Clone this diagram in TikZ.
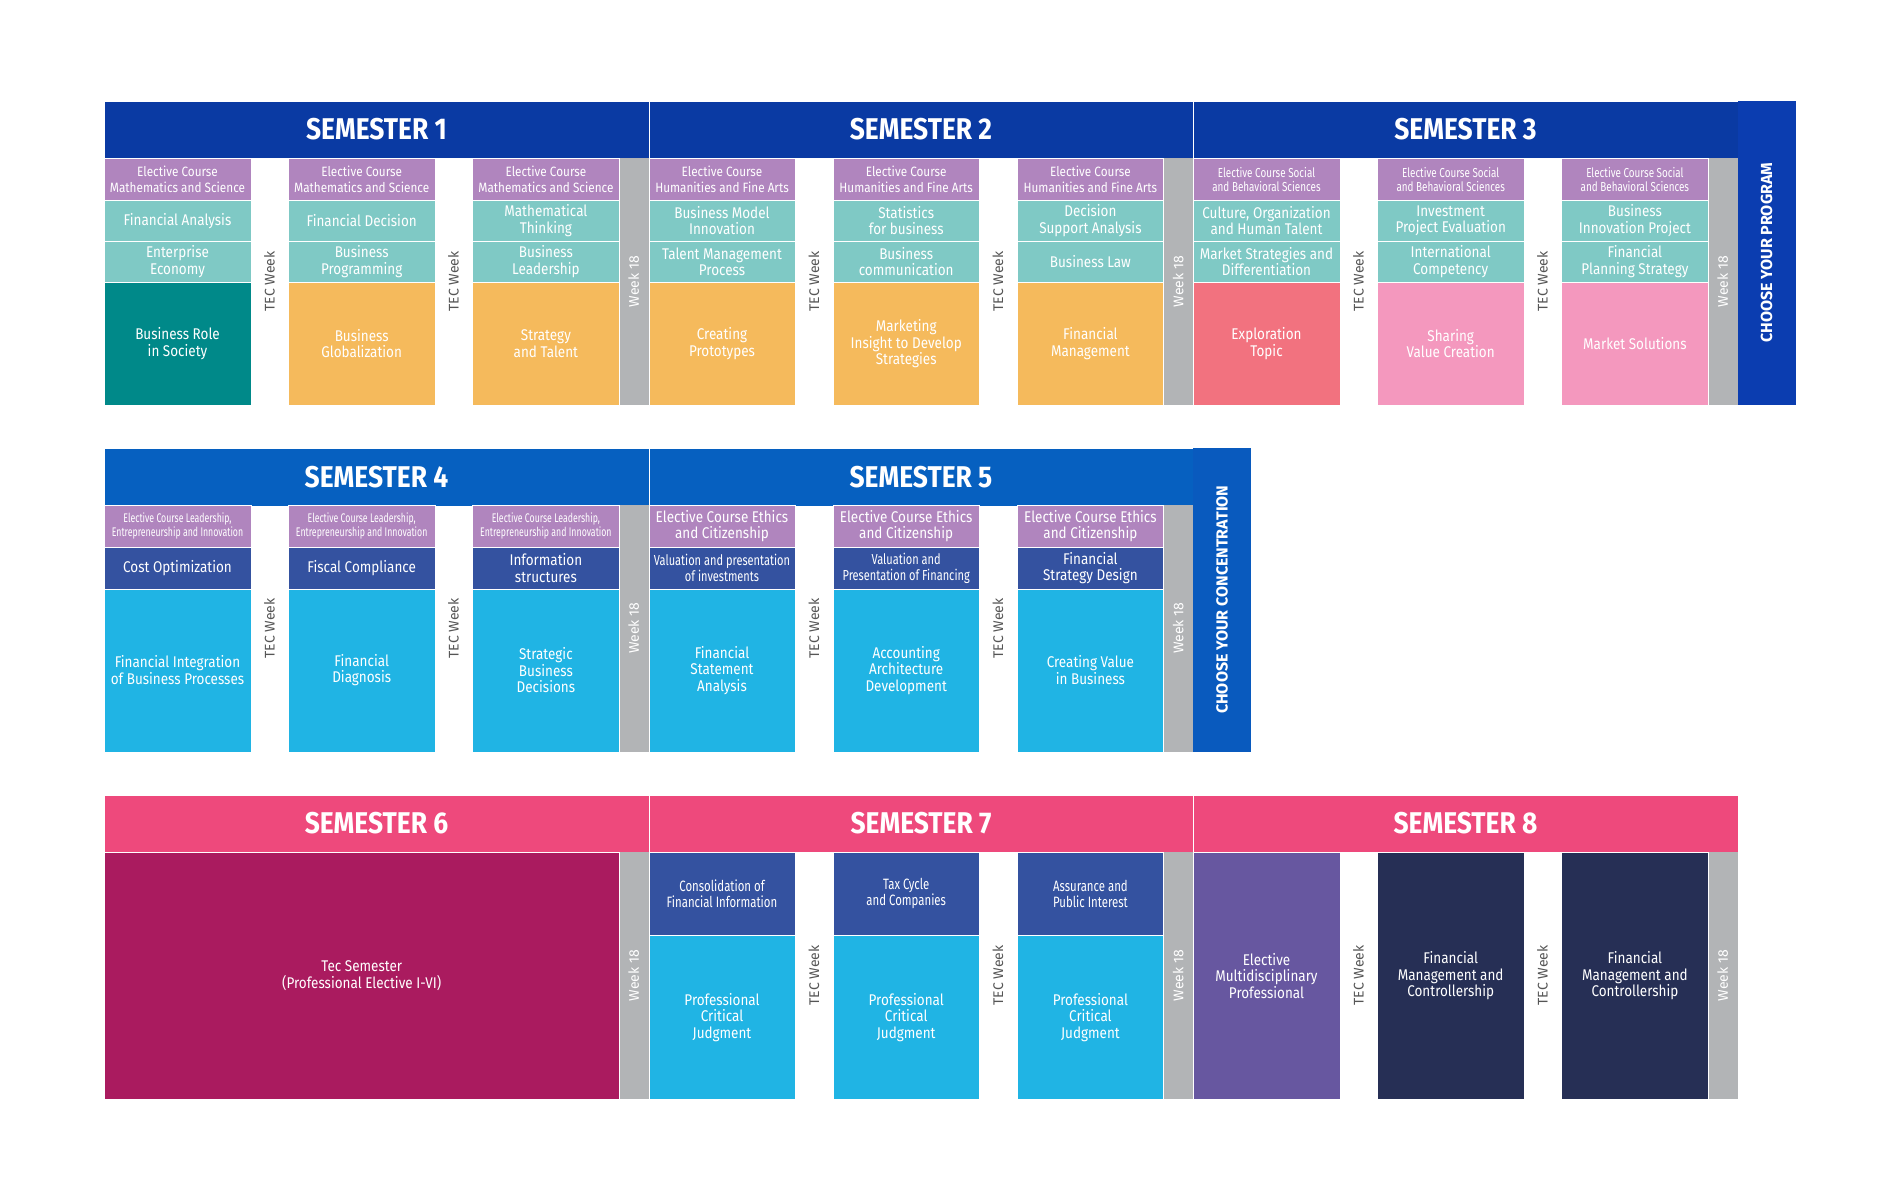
\documentclass[tikz,border=0pt]{standalone}
\usepackage{fontspec}
\setmainfont{Fira Sans}[FakeStretch=0.87]
\newfontfamily\headfont{Fira Sans}[FakeStretch=0.88]
\newfontfamily\tightfont{Fira Sans}[FakeStretch=0.76]
\newfontfamily\tighterfont{Fira Sans}[FakeStretch=0.7]
\newfontfamily\widefont{Fira Sans}
\usetikzlibrary{positioning}

\definecolor{semA}{RGB}{10,58,163}
\definecolor{progA}{RGB}{11,61,176}
\definecolor{semB}{RGB}{6,96,192}
\definecolor{concB}{RGB}{9,90,190}
\definecolor{semC}{RGB}{238,73,124}
\definecolor{elec}{RGB}{176,133,190}
\definecolor{tealL}{RGB}{127,201,197}
\definecolor{tealD}{RGB}{0,137,137}
\definecolor{orng}{RGB}{245,186,92}
\definecolor{coral}{RGB}{242,114,127}
\definecolor{pinkL}{RGB}{244,152,190}
\definecolor{blueD}{RGB}{52,82,160}
\definecolor{cyanL}{RGB}{32,180,228}
\definecolor{weekgray}{RGB}{178,180,182}
\definecolor{magD}{RGB}{170,27,95}
\definecolor{vio}{RGB}{103,87,160}
\definecolor{navyD}{RGB}{38,47,85}
\definecolor{tecgray}{RGB}{85,85,85}

\begin{document}
\begin{tikzpicture}[
  x=1pt, y=-1pt,
  font=\fontsize{15.5}{16.5}\selectfont,
  cell/.style={anchor=north west, draw=white, line width=0.5pt, text=white, align=center, inner sep=0pt, minimum width=146.5pt},
  semhead/.style={anchor=north west, draw=white, line width=0.5pt, text=white, minimum width=544.5pt, minimum height=57.5pt, font=\headfont\bfseries\fontsize{30}{32}\selectfont},
  weekbar/.style={rotate=90, fill=weekgray, text=white, minimum width=247pt, minimum height=29.6pt, inner sep=0pt, font=\widefont\fontsize{14}{16}\selectfont},
  tec/.style={rotate=90, text=tecgray, inner sep=0pt, font=\widefont\fontsize{14}{16}\selectfont},
  choose/.style={rotate=90, text=white, minimum height=58pt, inner sep=0pt, font=\widefont\bfseries\fontsize{16}{18}\selectfont},
  elecA/.style={cell, fill=elec, minimum height=42pt, font=\fontsize{13.5}{15.5}\selectfont},
  elecB/.style={cell, fill=elec, minimum height=42pt, font=\tightfont\fontsize{13}{14}\selectfont},
  elecC/.style={cell, fill=elec, minimum height=42pt, font=\tighterfont\fontsize{12.5}{14}\selectfont},
  rowA/.style={cell, fill=tealL, minimum height=41pt},
  bigA/.style={cell, minimum height=123pt},
  darkB/.style={cell, fill=blueD, minimum height=41.5pt},
  bigB/.style={cell, fill=cyanL, minimum height=163pt},
  darkC/.style={cell, fill=blueD, minimum height=83pt, font=\tightfont\fontsize{15}{16}\selectfont},
  bigC/.style={cell, fill=cyanL, minimum height=164pt},
  fullC/.style={cell, minimum height=247pt}
]
  \fill[white] (0,0) rectangle (1900,1200);
  \useasboundingbox (0,0) rectangle (1900,1200);

  % semester headers
  \foreach \X [count=\s] in {104,648.5,1193}
    \node[semhead, fill=semA] (sem\s) at (\X,100.5) {SEMESTER \s};
  \foreach \X/\s in {104/4,648.5/5}
    \node[semhead, fill=semB] (sem\s) at (\X,448) {SEMESTER \s};
  \foreach \X/\s in {104/6,648.5/7,1193/8}
    \node[semhead, fill=semC] (sem\s) at (\X,794.5) {SEMESTER \s};

  % side bars
  \node[choose, fill=progA, minimum width=304.5pt] (prog) at (1766.5,252.75) {CHOOSE YOUR PROGRAM};
  \node[choose, fill=concB, minimum width=303.5pt] (conc) at (1222,599.75) {CHOOSE YOUR CONCENTRATION};

  % week 18 and tec week
  \foreach \X/\Y/\n in {104/281.5/1,648.5/281.5/2,1193/281.5/3,104/628.25/4,648.5/628.25/5,104/975.5/6,648.5/975.5/7,1193/975.5/8}
    \node[weekbar] (wk\n) at ({\X+529.7},\Y) {Week 18};
  \foreach \X/\Y/\n in {104/281.5/1,648.5/281.5/2,1193/281.5/3,104/628.25/4,648.5/628.25/5,648.5/975.5/7,1193/975.5/8}
    \foreach \j in {0,1}
      \node[tec] (tec\n\j) at ({\X+165.35+\j*184.2},\Y) {TEC Week};

  % elective rows
  \foreach \i in {0,1,2} {
    \node[elecA] (el1\i) at ({104+\i*184.2},158) {Elective Course\\Mathematics and Science};
    \node[elecA] (el2\i) at ({648.5+\i*184.2},158) {Elective Course\\Humanities and Fine Arts};
    \node[elecB] (el3\i) at ({1193+\i*184.2},158) {Elective Course Social\\and Behavioral Sciences};
    \node[elecC] (el4\i) at ({104+\i*184.2},505) {Elective Course Leadership,\\Entrepreneurship and Innovation};
    \node[elecA, font=\fontsize{15.5}{16.5}\selectfont] (el5\i) at ({648.5+\i*184.2},505) {Elective Course Ethics\\and Citizenship};
  }

  % semester 1
  \node[rowA] (fanalysis) at (104,200) {Financial Analysis};
  \node[rowA] (enteco) at (104,241) {Enterprise\\Economy};
  \node[bigA, fill=tealD] (bizrole) at (104,282) {Business Role\\in Society};
  \node[rowA] (fdecision) at (288.2,200) {Financial Decision};
  \node[rowA] (bizprog) at (288.2,241) {Business\\Programming};
  \node[bigA, fill=orng] (bizglob) at (288.2,282) {Business\\Globalization};
  \node[rowA] (maththink) at (472.4,200) {Mathematical\\Thinking};
  \node[rowA] (bizlead) at (472.4,241) {Business\\Leadership};
  \node[bigA, fill=orng] (strategy) at (472.4,282) {Strategy\\and Talent};

  % semester 2
  \node[rowA] (bizmodel) at (648.5,200) {Business Model\\Innovation};
  \node[rowA] (talent) at (648.5,241) {Talent Management\\Process};
  \node[bigA, fill=orng] (protos) at (648.5,282) {Creating\\Prototypes};
  \node[rowA] (stats) at (832.7,200) {Statistics\\for business};
  \node[rowA] (bizcomm) at (832.7,241) {Business\\communication};
  \node[bigA, fill=orng] (marketing) at (832.7,282) {Marketing\\Insight to Develop\\Strategies};
  \node[rowA] (decision) at (1016.9,200) {Decision\\Support Analysis};
  \node[rowA] (bizlaw) at (1016.9,241) {Business Law};
  \node[bigA, fill=orng] (finmgmt) at (1016.9,282) {Financial\\Management};

  % semester 3
  \node[rowA] (culture) at (1193,200) {Culture, Organization\\and Human Talent};
  \node[rowA] (mktstrat) at (1193,241) {Market Strategies and\\Differentiation};
  \node[bigA, fill=coral] (explore) at (1193,282) {Exploration\\Topic};
  \node[rowA] (invest) at (1377.2,200) {Investment\\Project Evaluation};
  \node[rowA] (intl) at (1377.2,241) {International\\Competency};
  \node[bigA, fill=pinkL] (sharing) at (1377.2,282) {Sharing\\Value Creation};
  \node[rowA] (innov) at (1561.4,200) {Business\\Innovation Project};
  \node[rowA] (finplan) at (1561.4,241) {Financial\\Planning Strategy};
  \node[bigA, fill=pinkL] (mktsol) at (1561.4,282) {Market Solutions};

  % semester 4
  \node[darkB] (costopt) at (104,547) {Cost Optimization};
  \node[bigB] (finint) at (104,588.5) {Financial Integration\\of Business Processes};
  \node[darkB] (fiscal) at (288.2,547) {Fiscal Compliance};
  \node[bigB] (findiag) at (288.2,588.5) {Financial\\Diagnosis};
  \node[darkB] (infostruct) at (472.4,547) {Information\\structures};
  \node[bigB] (stratdec) at (472.4,588.5) {Strategic\\Business\\Decisions};

  % semester 5
  \node[darkB, font=\tightfont\fontsize{14.5}{16}\selectfont] (valinv) at (648.5,547) {Valuation and presentation\\of investments};
  \node[bigB] (finstat) at (648.5,588.5) {Financial\\Statement\\Analysis};
  \node[darkB, font=\tightfont\fontsize{14.5}{16}\selectfont] (valfin) at (832.7,547) {Valuation and\\Presentation of Financing};
  \node[bigB] (accarch) at (832.7,588.5) {Accounting\\Architecture\\Development};
  \node[darkB] (finstrat) at (1016.9,547) {Financial\\Strategy Design};
  \node[bigB] (creatval) at (1016.9,588.5) {Creating Value\\in Business};

  % semester 6
  \node[fullC, fill=magD, minimum width=514.9pt] (tecsem) at (104,852) {Tec Semester\\(Professional Elective I-VI)};

  % semester 7
  \node[darkC] (consol) at (648.5,852) {Consolidation of\\Financial Information};
  \node[bigC] (pcj1) at (648.5,935) {Professional\\Critical\\Judgment};
  \node[darkC] (taxcycle) at (832.7,852) {Tax Cycle\\and Companies};
  \node[bigC] (pcj2) at (832.7,935) {Professional\\Critical\\Judgment};
  \node[darkC] (assure) at (1016.9,852) {Assurance and\\Public Interest};
  \node[bigC] (pcj3) at (1016.9,935) {Professional\\Critical\\Judgment};

  % semester 8
  \node[fullC, fill=vio] (multi) at (1193,852) {Elective\\Multidisciplinary\\Professional};
  \node[fullC, fill=navyD] (fmc1) at (1377.2,852) {Financial\\Management and\\Controllership};
  \node[fullC, fill=navyD] (fmc2) at (1561.4,852) {Financial\\Management and\\Controllership};
\end{tikzpicture}
\end{document}
